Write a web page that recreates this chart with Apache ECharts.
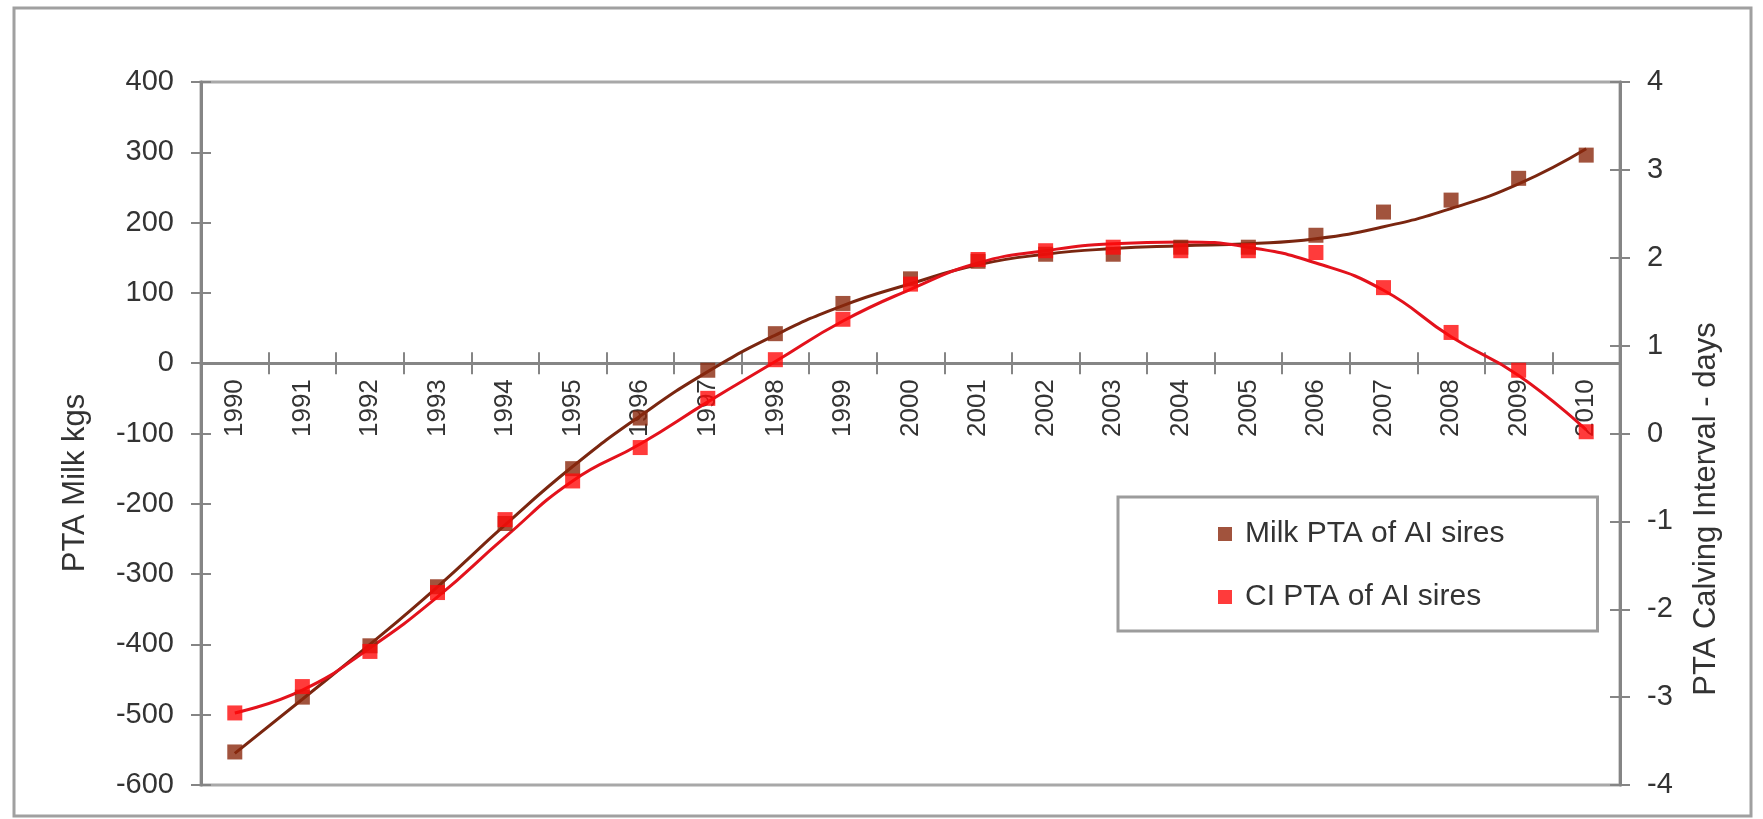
<!DOCTYPE html>
<html>
<head>
<meta charset="utf-8">
<script src="https://cdn.jsdelivr.net/npm/echarts@6/dist/echarts.min.js"></script>
<style>
html,body{margin:0;padding:0;background:#fff;}
#chart{width:1763px;height:819px;}
</style>
</head>
<body>
<div id="chart"></div>
<script>
const years = ['1990','1991','1992','1993','1994','1995','1996','1997','1998','1999','2000','2001','2002','2003','2004','2005','2006','2007','2008','2009','2010'];
const milkPTA = [-553,-475,-402,-318,-228,-150,-78,-10,42,85,120,145,155,155,165,165,182,215,232,263,296];
const ciPTA = [-3.18,-2.88,-2.48,-1.81,-0.98,-0.54,-0.16,0.40,0.84,1.30,1.70,1.98,2.08,2.12,2.08,2.08,2.06,1.66,1.15,0.72,0.02];
const milkTrend = [-555,-478,-400,-318,-230,-147,-75,-12,40,82,113,140,155,163,167,170,177,194,220,255,305];
const ciTrend = [-3.18,-2.92,-2.44,-1.86,-1.18,-0.54,-0.12,0.36,0.82,1.28,1.64,1.94,2.08,2.16,2.18,2.12,1.94,1.63,1.10,0.66,0.04];
const leftTicks = {min: -600, max: 400, interval: 100};
const rightTicks = {min: -4, max: 4, interval: 1};
const legendNames = ['Milk PTA of AI sires', 'CI PTA of AI sires'];
const leftTitle = 'PTA Milk kgs';
const rightTitle = 'PTA Calving Interval - days';

const FONT = "'Liberation Sans', Arial, sans-serif";
const FS = 29;
const TXT = '#333333';
const AX = '#858585';

const GRID = {left: 201, right: 143, top: 82, bottom: 34};
const plotH = 819 - GRID.top - GRID.bottom;
// distance from the grid bottom up to the value 0 of the left axis
const zeroOffset = -plotH * (0 - leftTicks.min) / (leftTicks.max - leftTicks.min);

const chart = echarts.init(document.getElementById('chart'), null, {renderer: 'canvas'});

function yAx(cfg, pos, main) {
  return {
    type: 'value', position: pos, min: cfg.min, max: cfg.max, interval: cfg.interval,
    axisLine: {show: main, lineStyle: {color: AX, width: 3}},
    axisTick: {show: true, inside: !main, length: 10, lineStyle: {color: AX, width: 2}},
    axisLabel: {show: main, fontFamily: FONT, fontSize: FS, color: TXT, margin: 27},
    splitLine: {show: false}
  };
}
function xAx(main) {
  return {
    type: 'category', data: years, position: 'bottom', boundaryGap: true, offset: zeroOffset,
    axisLine: {show: main, onZero: false, lineStyle: {color: AX, width: 3}},
    axisTick: {show: true, inside: !main, length: 11, interval: 0, lineStyle: {color: AX, width: 2}},
    axisLabel: {show: main, rotate: 90, interval: 0, fontFamily: FONT, fontSize: 26, color: TXT, margin: 16},
    splitLine: {show: false}
  };
}

chart.setOption({
  animation: false,
  backgroundColor: '#ffffff',
  grid: Object.assign({show: true, borderColor: '#a8a8a8', borderWidth: 3, backgroundColor: 'transparent'}, GRID),
  xAxis: [xAx(true), xAx(false)],
  yAxis: [yAx(leftTicks, 'left', true), yAx(rightTicks, 'right', true), yAx(leftTicks, 'left', false), yAx(rightTicks, 'right', false)],
  legend: {
    data: legendNames, orient: 'vertical', left: 1118, top: 497,
    padding: [22, 93, 19, 100], itemGap: 33, itemWidth: 14, itemHeight: 14, icon: 'rect',
    borderColor: '#9c9c9c', borderWidth: 3, backgroundColor: '#ffffff',
    textStyle: {fontFamily: FONT, fontSize: 30, color: TXT, lineHeight: 30, padding: [0, 0, 0, 8]}
  },
  graphic: [
    {type: 'rect', shape: {x: 14, y: 8, width: 1737, height: 808}, style: {fill: 'none', stroke: '#a0a0a0', lineWidth: 3}, z: -1},
    {type: 'text', x: 75, y: 483, rotation: Math.PI / 2,
     style: {text: leftTitle, fontFamily: FONT, fontSize: 31, fill: TXT, textAlign: 'center', textVerticalAlign: 'middle'}},
    {type: 'text', x: 1706, y: 509, rotation: Math.PI / 2,
     style: {text: rightTitle, fontFamily: FONT, fontSize: 31, fill: TXT, textAlign: 'center', textVerticalAlign: 'middle'}}
  ],
  series: [
    {name: 'Milk trend', type: 'line', xAxisIndex: 0, yAxisIndex: 0, data: milkTrend, smooth: 0.5, showSymbol: false, symbol: 'none',
     lineStyle: {color: '#7a2610', width: 3}, z: 2, silent: true},
    {name: 'CI trend', type: 'line', xAxisIndex: 0, yAxisIndex: 1, data: ciTrend, smooth: 0.5, showSymbol: false, symbol: 'none',
     lineStyle: {color: '#e3121c', width: 3}, z: 3, silent: true},
    {name: legendNames[0], type: 'scatter', xAxisIndex: 0, yAxisIndex: 0, data: milkPTA, symbol: 'rect', symbolSize: 15,
     itemStyle: {color: '#8a280c'}, z: 4},
    {name: legendNames[1], type: 'scatter', xAxisIndex: 0, yAxisIndex: 1, data: ciPTA, symbol: 'rect', symbolSize: 15,
     itemStyle: {color: '#ff0a0a'}, z: 5}
  ]
});
</script>
</body>
</html>
